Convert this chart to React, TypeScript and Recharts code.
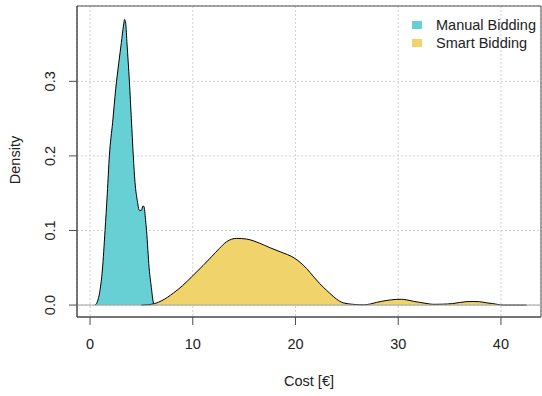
import { ComposedChart, Area, XAxis, YAxis, CartesianGrid, ReferenceLine, ReferenceArea } from "recharts";

// kernel density estimates of cost per conversion, one per bidding strategy
const manualCost = [0.49, 0.7, 0.97, 1.2, 1.46, 1.68, 1.88, 2.2, 2.5, 2.8, 3.05, 3.25, 3.37, 3.47, 3.6, 3.83, 4.02, 4.21, 4.38, 4.6, 4.8, 5.0, 5.15, 5.25, 5.4, 5.5, 5.75, 6.0, 6.1, 6.2, 6.4];
const manualDensity = [0, 0.004, 0.02, 0.047, 0.1, 0.15, 0.2, 0.245, 0.29, 0.325, 0.352, 0.374, 0.383, 0.378, 0.35, 0.3, 0.25, 0.2, 0.164, 0.14, 0.127, 0.127, 0.133, 0.132, 0.115, 0.1, 0.05, 0.02, 0.008, 0.002, 0];

const smartCost = [5.0, 5.6, 6.3, 7.0, 8.1, 9.0, 10.05, 11.0, 11.84, 12.6, 13.3, 14.27, 15.24, 16.5, 17.5, 18.5, 19.94, 20.75, 21.4, 22.05, 22.7, 23.35, 24.0, 24.64, 25.6, 26.6, 27.3, 27.9, 28.9, 29.8, 30.3, 30.8, 31.5, 32.1, 32.8, 33.4, 34.3, 35.3, 36.0, 36.6, 37.3, 37.9, 38.6, 39.2, 39.7, 40.2, 42.5];
const smartDensity = [0, 0.0005, 0.002, 0.006, 0.016, 0.026, 0.04, 0.053, 0.065, 0.076, 0.085, 0.0894, 0.0885, 0.083, 0.077, 0.0715, 0.0626, 0.0536, 0.044, 0.0335, 0.024, 0.0157, 0.008, 0.003, 0.001, 0.0003, 0.0015, 0.0036, 0.0062, 0.0076, 0.0078, 0.007, 0.005, 0.0036, 0.002, 0.001, 0.0012, 0.002, 0.0035, 0.0045, 0.0048, 0.0045, 0.003, 0.002, 0.0008, 0, 0];

const costTicks = [0, 10, 20, 30, 40];
const densityTicks = [0, 0.1, 0.2, 0.3];
const seriesNames = ["Manual Bidding", "Smart Bidding"];
const seriesColors = ["#67d0d5", "#f0d46b"];

const costDomain = [-1.27, 43.9];
const densityDomain = [-0.016, 0.401];

const manualData = manualCost.map((cost, i) => ({ cost, density: manualDensity[i] }));
const smartData = smartCost.map((cost, i) => ({ cost, density: smartDensity[i] }));

const FONT = "'Liberation Sans', Arial, sans-serif";
const TEXT = "#222";
const AXIS = "#4d4d4d";

const CostTick = ({ x, y, payload }: any) => (
  <text x={x} y={y + 22} textAnchor="middle" fontSize={14.5} fontFamily={FONT} fill={TEXT}>
    {payload.value}
  </text>
);

const DensityTick = ({ x, y, payload }: any) => (
  <text
    x={x - 12}
    y={y}
    transform={`rotate(-90, ${x - 12}, ${y})`}
    textAnchor="middle"
    fontSize={14.5}
    fontFamily={FONT}
    fill={TEXT}
  >
    {payload.value.toFixed(1)}
  </text>
);

const DensityLabel = ({ viewBox }: any) => {
  const x = viewBox.x + 20;
  const y = viewBox.y + viewBox.height / 2 - 1.5;
  return (
    <text x={x} y={y} transform={`rotate(-90, ${x}, ${y})`} textAnchor="middle" fontSize={14.5} fontFamily={FONT} fill={TEXT}>
      Density
    </text>
  );
};

// legend drawn as an overlay so it takes no room from the plot area
const KeyBox = () => (
  <div style={{ position: "absolute", left: 412, top: 16, fontFamily: FONT, fontSize: 14.5, color: TEXT, lineHeight: "18px" }}>
    {seriesNames.map((name, i) => (
      <div key={name} style={{ display: "flex", alignItems: "center" }}>
        <span style={{ display: "inline-block", width: 10, height: 8, background: seriesColors[i], marginRight: 14 }} />
        <span>{name}</span>
      </div>
    ))}
  </div>
);

export default function App() {
  return (
    <div style={{ position: "absolute", left: 0, top: 0, width: 542, height: 396, background: "#fff" }}>
      <ComposedChart width={542} height={396} margin={{ top: 6, right: 1, bottom: 0, left: 0 }}>
        <CartesianGrid stroke="#d0d0d0" strokeDasharray="2 2" />
        <XAxis
          dataKey="cost"
          type="number"
          domain={costDomain}
          ticks={costTicks}
          allowDataOverflow
          height={79}
          tickSize={8}
          tickLine={{ stroke: AXIS }}
          axisLine={{ stroke: AXIS }}
          tick={<CostTick />}
          label={{ value: "Cost [€]", position: "insideBottom", offset: 10.5, fontSize: 14.5, fontFamily: FONT, fill: TEXT }}
        />
        <YAxis
          type="number"
          domain={densityDomain}
          ticks={densityTicks}
          allowDataOverflow
          width={77}
          tickSize={8}
          tickLine={{ stroke: AXIS }}
          axisLine={{ stroke: AXIS }}
          tick={<DensityTick />}
          label={<DensityLabel />}
        />
        <ReferenceLine y={0} stroke="#a0a0a0" strokeWidth={1} />
        <Area
          data={manualData}
          dataKey="density"
          name={seriesNames[0]}
          type="monotone"
          baseValue={0}
          fill={seriesColors[0]}
          fillOpacity={1}
          stroke="#000"
          strokeWidth={1}
          isAnimationActive={false}
        />
        <Area
          data={smartData}
          dataKey="density"
          name={seriesNames[1]}
          type="monotone"
          baseValue={0}
          fill={seriesColors[1]}
          fillOpacity={1}
          stroke="#000"
          strokeWidth={1}
          isAnimationActive={false}
        />
        <ReferenceArea
          x1={costDomain[0]}
          x2={costDomain[1]}
          y1={densityDomain[0]}
          y2={densityDomain[1]}
          fill="none"
          stroke={AXIS}
          strokeWidth={1}
        />
      </ComposedChart>
      <KeyBox />
    </div>
  );
}
